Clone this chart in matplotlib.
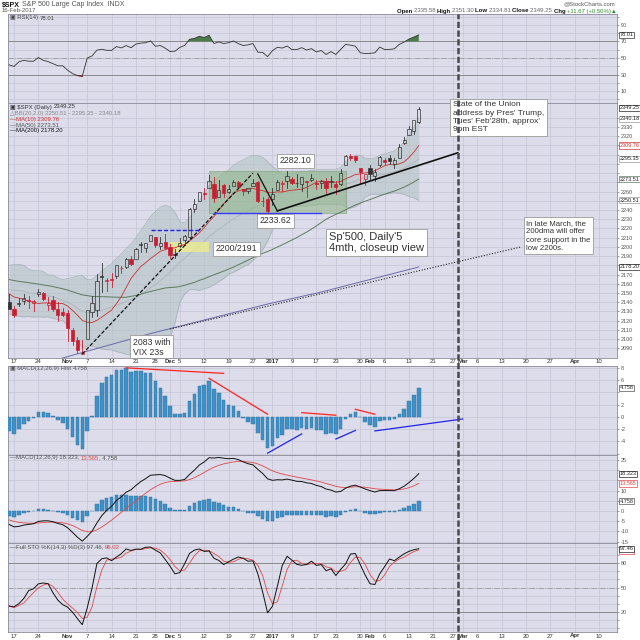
import numpy as np
import pandas as pd
import matplotlib
matplotlib.use("Agg")
import matplotlib.pyplot as plt
from matplotlib.lines import Line2D
from matplotlib.patches import Rectangle
from matplotlib.transforms import blended_transform_factory as blend

plt.rcParams['font.family'] = ['Liberation Sans', 'DejaVu Sans']

W = H = 640

# trading calendar (bars + projected future days)
holidays = ["2016-11-24", "2016-12-26", "2017-01-02", "2017-01-16", "2017-02-20", "2017-04-14"]
cal = pd.bdate_range("2016-10-14", "2017-04-14", freq="C", holidays=holidays)

# $SPX daily bars, 14-Oct-2016 .. 15-Feb-2017
bar_open = [2139.68, 2132.95, 2138.31, 2140.81, 2142.51, 2139.43, 2148.50, 2149.72, 2136.97, 2142.79,
            2132.23, 2129.78, 2128.68, 2109.43, 2098.80, 2083.79, 2100.59, 2129.92, 2131.56, 2167.49,
            2162.71, 2165.64, 2168.29, 2177.53, 2178.61, 2186.85, 2186.43, 2201.56, 2198.55, 2206.27,
            2210.21, 2200.76, 2204.97, 2200.17, 2191.12, 2200.65, 2207.26, 2210.72, 2241.13, 2249.73,
            2258.83, 2263.32, 2268.35, 2253.77, 2266.81, 2259.24, 2266.50, 2270.54, 2262.93, 2260.25,
            2266.23, 2270.23, 2249.50, 2251.61, 2251.57, 2261.60, 2268.18, 2271.14, 2273.59, 2269.72,
            2268.60, 2271.14, 2272.74, 2269.14, 2269.14, 2271.90, 2269.96, 2267.78, 2267.88, 2288.88,
            2298.63, 2299.02, 2286.01, 2274.02, 2285.59, 2276.69, 2288.54, 2294.28, 2295.87, 2289.55,
            2296.70, 2312.27, 2321.72, 2326.12, 2335.58]
bar_high = [2149.19, 2135.61, 2144.38, 2148.44, 2147.18, 2142.63, 2154.79, 2151.44, 2145.73, 2147.17,
            2140.72, 2133.25, 2131.45, 2111.76, 2102.56, 2099.07, 2132.00, 2146.87, 2170.10, 2182.30,
            2165.92, 2171.36, 2180.84, 2179.22, 2188.06, 2189.89, 2198.70, 2204.80, 2204.72, 2213.35,
            2211.14, 2210.46, 2214.10, 2202.60, 2197.95, 2209.42, 2212.78, 2241.63, 2251.69, 2259.80,
            2264.03, 2277.53, 2276.20, 2272.12, 2268.05, 2267.47, 2272.56, 2271.23, 2263.18, 2263.79,
            2273.82, 2271.31, 2254.51, 2253.58, 2263.88, 2272.82, 2271.50, 2282.10, 2275.49, 2279.27,
            2275.32, 2271.78, 2278.68, 2272.08, 2272.01, 2274.33, 2276.96, 2271.78, 2284.63, 2299.55,
            2300.99, 2299.02, 2286.01, 2279.09, 2289.14, 2283.97, 2298.31, 2296.18, 2299.40, 2295.91,
            2311.08, 2319.23, 2331.58, 2337.58, 2351.30]
bar_low = [2132.98, 2124.43, 2135.49, 2138.15, 2133.44, 2130.09, 2146.91, 2141.93, 2131.59, 2130.99,
           2119.36, 2125.53, 2097.85, 2094.00, 2085.23, 2083.79, 2100.59, 2123.56, 2125.35, 2151.17,
           2152.49, 2156.08, 2166.38, 2172.20, 2176.65, 2180.38, 2186.43, 2194.51, 2194.51, 2206.27,
           2200.36, 2198.15, 2198.81, 2187.44, 2188.37, 2199.97, 2202.21, 2208.93, 2237.57, 2249.23,
           2252.37, 2263.32, 2248.44, 2253.77, 2254.24, 2258.21, 2266.14, 2265.15, 2256.08, 2258.84,
           2266.15, 2249.11, 2244.56, 2233.62, 2245.13, 2261.60, 2260.45, 2264.06, 2268.04, 2265.27,
           2260.83, 2254.25, 2271.51, 2262.81, 2263.35, 2258.41, 2265.01, 2257.02, 2266.68, 2288.88,
           2294.08, 2291.62, 2268.04, 2267.21, 2272.44, 2271.65, 2287.88, 2288.57, 2290.16, 2285.38,
           2296.61, 2311.10, 2321.42, 2322.17, 2334.81]
bar_close = [2132.98, 2126.50, 2139.60, 2144.29, 2141.34, 2141.16, 2151.33, 2143.16, 2139.43, 2133.04,
             2126.41, 2126.15, 2111.72, 2097.94, 2088.66, 2085.18, 2131.52, 2139.56, 2163.26, 2167.48,
             2164.45, 2164.20, 2180.39, 2176.94, 2187.12, 2181.90, 2198.18, 2202.94, 2204.72, 2213.35,
             2201.72, 2204.66, 2198.81, 2191.08, 2191.95, 2204.71, 2212.23, 2241.35, 2246.19, 2259.53,
             2256.96, 2271.72, 2253.28, 2262.03, 2258.07, 2262.53, 2270.76, 2265.18, 2260.96, 2263.79,
             2268.88, 2249.92, 2249.26, 2238.83, 2257.83, 2270.75, 2269.00, 2276.98, 2268.90, 2268.90,
             2275.32, 2270.44, 2274.64, 2267.89, 2271.89, 2263.69, 2271.31, 2265.20, 2280.07, 2298.37,
             2296.68, 2294.69, 2280.90, 2278.87, 2279.55, 2280.85, 2297.42, 2292.56, 2293.08, 2294.67,
             2307.87, 2316.10, 2328.25, 2337.58, 2349.25]

# warm-up closes 5-Aug .. 13-Oct-2016 (before the first visible bar)
prior_close = [2182.87, 2180.89, 2181.74, 2175.49, 2185.79, 2184.05, 2190.15, 2178.15, 2182.22, 2187.02,
               2183.87, 2182.64, 2186.90, 2175.44, 2172.47, 2169.04, 2180.38, 2176.12, 2170.95, 2170.86,
               2179.98, 2186.48, 2186.16, 2181.30, 2127.81, 2159.04, 2127.02, 2125.77, 2147.26, 2139.16,
               2139.12, 2139.76, 2163.12, 2177.18, 2164.69, 2146.10, 2159.93, 2171.37, 2151.13, 2168.27,
               2161.20, 2150.49, 2159.73, 2160.77, 2153.74, 2163.66, 2136.73, 2139.18, 2132.55]
# highs / lows 21-Sep .. 13-Oct-2016
prior_high = [2165.11, 2179.99, 2173.75, 2158.54, 2161.13, 2172.40, 2172.67, 2175.30, 2164.41, 2165.46,
              2163.95, 2162.93, 2162.93, 2169.60, 2161.56, 2145.36, 2138.19]
prior_low = [2139.57, 2170.14, 2163.97, 2145.04, 2141.55, 2151.79, 2145.20, 2156.51, 2154.77, 2144.85,
             2150.28, 2150.28, 2144.85, 2160.39, 2128.84, 2132.77, 2114.72]

# 200-day MA
ma200 = [2063.0, 2064.5, 2066.0, 2067.5, 2069.0, 2070.5, 2072.0, 2073.5, 2075.0, 2076.5,
         2078.0, 2079.5, 2081.0, 2082.5, 2084.0, 2085.4, 2086.9, 2088.3, 2089.8, 2091.3,
         2092.8, 2094.2, 2095.7, 2097.2, 2098.6, 2100.1, 2101.6, 2103.0, 2104.5, 2106.0,
         2107.3, 2108.7, 2110.0, 2111.3, 2112.7, 2114.0, 2115.3, 2116.7, 2118.0, 2119.3,
         2120.7, 2122.0, 2123.3, 2124.7, 2126.0, 2127.3, 2128.7, 2130.0, 2131.3, 2132.7,
         2134.0, 2135.3, 2136.7, 2138.0, 2139.2, 2140.4, 2141.5, 2142.7, 2143.9, 2145.1,
         2146.3, 2147.5, 2148.6, 2149.8, 2151.0, 2152.4, 2153.7, 2155.1, 2156.4, 2157.8,
         2159.2, 2160.5, 2161.9, 2163.2, 2164.6, 2166.0, 2167.3, 2168.7, 2170.0, 2171.4,
         2172.8, 2174.1, 2175.5, 2176.8, 2178.2]

# x-axis labels
tick_dates = ["2016-10-17", "2016-10-24", "2016-11-01", "2016-11-07", "2016-11-14", "2016-11-21",
              "2016-11-28", "2016-12-01", "2016-12-05", "2016-12-12", "2016-12-19", "2016-12-27",
              "2017-01-03", "2017-01-09", "2017-01-17", "2017-01-23", "2017-01-30", "2017-02-01",
              "2017-02-06", "2017-02-13", "2017-02-21", "2017-02-27", "2017-03-01", "2017-03-06",
              "2017-03-13", "2017-03-20", "2017-03-27", "2017-04-03", "2017-04-10"]
tick_text = ["17", "24", "Nov", "7", "14", "21", "28", "Dec", "5", "12", "19", "27", "2017", "9", "17",
             "23", "30", "Feb", "6", "13", "21", "27", "Mar", "6", "13", "20", "27", "Apr", "10"]
month_labels = {"Nov", "Dec", "2017", "Feb", "Mar", "Apr"}
event_date = "2017-02-28"


def xi(d):
    return cal.get_loc(pd.Timestamp(d))


# ---- indicators ----
n = len(bar_close)
x = np.arange(n)
npr = len(prior_close)
closes = pd.Series(prior_close + bar_close)
ma10 = closes.rolling(10).mean().values[npr:]
mid = closes.rolling(20).mean()
sd = closes.rolling(20).std(ddof=0)
bb_up = (mid + 2 * sd).values[npr:]
bb_lo = (mid - 2 * sd).values[npr:]
bb_mid = mid.values[npr:]
ma50 = closes.rolling(50).mean().values[npr:]

delta = closes.diff()
avg_up = delta.clip(lower=0).ewm(alpha=1 / 14, adjust=False).mean()
avg_dn = (-delta.clip(upper=0)).ewm(alpha=1 / 14, adjust=False).mean()
rsi = (100 - 100 / (1 + avg_up / avg_dn)).values[npr:]

ema12 = closes.ewm(span=12, adjust=False).mean()
ema26 = closes.ewm(span=26, adjust=False).mean()
macd_s = ema12 - ema26
sig_s = macd_s.ewm(span=9, adjust=False).mean()
macd = macd_s.values[npr:]
signal = sig_s.values[npr:]
hist = macd - signal

pad = [np.nan] * (npr - len(prior_high))
highs = pd.Series(pad + prior_high + bar_high)
lows = pd.Series(pad + prior_low + bar_low)
hh = highs.rolling(14).max()
ll = lows.rolling(14).min()
fastk = 100 * (closes - ll) / (hh - ll)
sto_k_s = fastk.rolling(3).mean()
sto_k = sto_k_s.values[npr:]
sto_d = sto_k_s.rolling(3).mean().values[npr:]

# ---- figure ----
fig = plt.figure(figsize=(6.4, 6.4), dpi=100)
fig.patch.set_facecolor('white')
renderer = fig.canvas.get_renderer()

BG = '#dcdcea'
GRID = '#c4c4d5'
XMIN, XMAX = -0.23, 124.65
tick_x = [xi(d) for d in tick_dates]


def rect(x0, y0, x1, y1):
    return [x0 / W, 1 - y1 / H, (x1 - x0) / W, (y1 - y0) / H]


def hide_near(ticks, shown, boxes, gap):
    # tick labels that would sit under a value tag on the right axis are left blank
    return [str(v) if (v in shown and all(abs(v - b) >= gap for b in boxes)) else '' for v in ticks]


def panel(y0, y1, ylim, yticks, ylabels=None):
    ax = fig.add_axes(rect(8, y0, 617, y1))
    ax.set_facecolor(BG)
    ax.set_xlim(XMIN, XMAX)
    ax.set_ylim(*ylim)
    ax.set_xticks(tick_x)
    ax.tick_params(axis='x', length=0, labelbottom=False)
    ax.yaxis.tick_right()
    ax.set_yticks(yticks)
    if ylabels is not None:
        ax.set_yticklabels(ylabels)
    ax.tick_params(axis='y', labelsize=4, length=1.5, width=0.4, pad=1, colors='#555555')
    ax.grid(True, color=GRID, lw=0.5)
    ax.set_axisbelow(True)
    for s in ax.spines.values():
        s.set_color('#8a8a9a')
        s.set_linewidth(0.6)
    return ax


def runs(xp, yp, parts, size, ha='left'):
    objs = [fig.text(0, 1 - yp / H, s, fontsize=size, color=c, fontweight=w, va='center', ha='left')
            for s, c, w in parts]
    widths = [t.get_window_extent(renderer).width for t in objs]
    start = xp - sum(widths) if ha == 'right' else xp
    for t, w in zip(objs, widths):
        t.set_x(start / W)
        start += w


def vbox(ax, val, text, ec, tc='#222222'):
    ax.text(1.004, val, text, transform=blend(ax.transAxes, ax.transData), fontsize=4, color=tc,
            va='center', ha='left', clip_on=False, zorder=10,
            bbox=dict(boxstyle='square,pad=0.12', fc='white', ec=ec, lw=0.5))


def note(ax, xd, y, s, size=6, ls=1.2, clip=True):
    ax.text(xd, y, s, fontsize=size, color='#333333', va='center', ha='left', linespacing=ls,
            zorder=9, clip_on=clip,
            bbox=dict(boxstyle='square,pad=0.3', fc='white', ec='#9a9a9a', lw=0.6))


# header
runs(2, 5, [("$SPX", '#111111', 'bold'), (" S&P 500 Large Cap Index  INDX", '#555555', 'normal')], 5)
fig.text(2 / W, 1 - 11 / H, "16-Feb-2017", fontsize=4.3, color='#555555', va='center')
fig.text(615 / W, 1 - 4 / H, "@StockCharts.com", fontsize=4.3, color='#555555', va='center', ha='right')
chg = bar_close[-1] - bar_close[-2]
runs(617, 11, [("Open ", '#111111', 'bold'), (f"{bar_open[-1]:.2f} ", '#666666', 'normal'),
               ("High ", '#111111', 'bold'), (f"{bar_high[-1]:.2f} ", '#666666', 'normal'),
               ("Low ", '#111111', 'bold'), (f"{bar_low[-1]:.2f} ", '#666666', 'normal'),
               ("Close ", '#111111', 'bold'), (f"{bar_close[-1]:.2f} ", '#666666', 'normal'),
               ("Chg ", '#111111', 'bold'),
               (f"+{chg:.2f} (+{100 * chg / bar_close[-2]:.2f}%)\u25b2", '#2c8a2c', 'normal')],
     4.3, ha='right')

# ---- RSI ----
rsi_ticks = list(range(0, 101, 10))
ax_r = panel(14, 103, (-4.5, 103.3), rsi_ticks, hide_near(rsi_ticks, (10, 30, 50, 70, 90), [rsi[-1]], 7))
ax_r.axhline(70, color='#8a8a8a', lw=0.7)
ax_r.axhline(30, color='#8a8a8a', lw=0.7)
ax_r.axhline(50, color='#9a9a9a', lw=0.6, ls='-.')
ax_r.plot(x, rsi, color='#333333', lw=0.6, zorder=4)
ax_r.fill_between(x, rsi, 70, where=rsi > 70, interpolate=True, color='#4a7d4a', lw=0, zorder=3)
ax_r.fill_between(x, rsi, 30, where=rsi < 30, interpolate=True, color='#cc2222', lw=0, zorder=3)
vbox(ax_r, rsi[-1], f"{rsi[-1]:.2f}", '#333333')
runs(10, 18, [("\u25a3 RSI(14) ", '#444444', 'normal'), (f"{rsi[-1]:.2f}", '#444444', 'normal')], 4.3)

# ---- price ----
price_ticks = list(range(2090, 2341, 10))
price_boxes = [bar_close[-1], bb_up[-1], ma10[-1], bb_mid[-1], ma50[-1], bb_lo[-1], ma200[-1]]
ax_p = panel(103, 358, (2079.5, 2356), price_ticks, hide_near(price_ticks, price_ticks, price_boxes, 6.5))
ax_p.fill_between(x, bb_lo, bb_up, color='#b4c2c6', alpha=0.6, lw=0, zorder=1)
ax_p.plot(x, bb_up, color='#a4b2b6', lw=0.5, zorder=1)
ax_p.plot(x, bb_lo, color='#a4b2b6', lw=0.5, zorder=1)
ax_p.plot(x, bb_mid, color='#a8b4b8', lw=0.5, zorder=1)

x0, x1 = xi("2016-12-13"), xi("2017-01-25") + 0.1
ax_p.add_patch(Rectangle((x0, 2237), x1 - x0, 2282.1 - 2237, fc='#8fb585', alpha=0.55,
                         ec='#6d8f66', lw=0.6, zorder=2))
x0, x1 = xi("2016-12-01"), xi("2016-12-13")
ax_p.add_patch(Rectangle((x0, 2194), x1 - x0, 11, fc='#eeee88', alpha=0.75, lw=0, zorder=2))

ax_p.plot(x, ma200, color='#6a6aa8', lw=0.7, zorder=3)
ax_p.plot(x, ma50, color='#5f7a5f', lw=0.7, zorder=3)
ax_p.plot(x, ma10, color='#cc3333', lw=0.6, zorder=3)

prev = [prior_close[-1]] + bar_close[:-1]
for i in range(n):
    o, h, l, c = bar_open[i], bar_high[i], bar_low[i], bar_close[i]
    col = '#c81e32' if c < prev[i] else '#333333'
    lo_, hi_ = min(o, c), max(o, c)
    if hi_ - lo_ < 0.6:
        hi_ = lo_ + 0.6
    ax_p.plot([i, i], [l, lo_], color=col, lw=0.6, zorder=4)
    ax_p.plot([i, i], [hi_, h], color=col, lw=0.6, zorder=4)
    ax_p.add_patch(Rectangle((i - 0.33, lo_), 0.66, hi_ - lo_, fc=col if c < o else 'none',
                             ec=col, lw=0.5, zorder=5))

# drawn trend lines
ax_p.plot([xi("2016-11-04"), xi("2016-12-27")], [2083.8, 2280], color='#111111', lw=0.9,
          ls=(0, (3, 1.5)), zorder=6)
ax_p.plot([xi("2016-12-28"), xi("2017-01-04")], [2279, 2239], color='#111111', lw=0.9, zorder=6)
ax_p.plot([xi("2017-01-04"), xi(event_date)], [2239, 2302], color='#111111', lw=1.2, zorder=6)
ax_p.plot([xi("2016-12-14"), xi("2017-01-18")], [2236.5, 2236.5], color='#3a3aff', lw=1.0, zorder=6)
ax_p.plot([xi("2016-11-25"), xi("2016-12-09")], [2218, 2218], color='#2020ee', lw=1.0,
          ls=(0, (3, 1.5)), zorder=6)
ax_p.plot([xi("2016-12-01"), xi("2017-03-17")], [2111, 2200], color='#222222', lw=0.8,
          ls=(0, (1, 1.5)), zorder=6)

note(ax_p, xi("2017-01-05") - 0.5, 2293.3, "2282.10", size=6.3)
note(ax_p, xi("2016-12-28") + 0.3, 2228.2, "2233.62", size=6.3)
note(ax_p, xi("2016-12-14") + 0.3, 2197.7, "2200/2191", size=6.3)
note(ax_p, xi("2016-11-18") + 0.3, 2091.0, "2083 with\nVIX 23s", size=6.3, ls=1.1)
note(ax_p, xi("2017-01-18") + 1.6, 2204.7, "Sp'500, Daily'5\n4mth, closeup view", size=8, ls=1.15)
note(ax_p, xi("2017-02-27"), 2340.5,
     "State of the Union\naddress by Pres' Trump,\nTues' Feb'28th, approx'\n9pm EST",
     size=6, ls=1.25, clip=False)
note(ax_p, xi("2017-03-20"), 2212.0,
     "In late March, the\n200dma will offer\ncore support in the\nlow 2200s.", size=5.6, ls=1.3)

vbox(ax_p, bar_close[-1] + 1.5, f"{bar_close[-1]:.2f}", '#222222')
vbox(ax_p, bb_up[-1] - 1.5, f"{bb_up[-1]:.2f}", '#999999')
vbox(ax_p, ma10[-1], f"{ma10[-1]:.2f}", '#cc3333', '#cc3333')
vbox(ax_p, bb_mid[-1], f"{bb_mid[-1]:.2f}", '#999999')
vbox(ax_p, ma50[-1], f"{ma50[-1]:.2f}", '#5f7a5f')
vbox(ax_p, bb_lo[-1], f"{bb_lo[-1]:.2f}", '#999999')
vbox(ax_p, ma200[-1], f"{ma200[-1]:.2f}", '#222222')

runs(10, 107, [("\u25a3 $SPX (Daily) ", '#333333', 'normal'), (f"{bar_close[-1]:.2f}", '#333333', 'normal')], 4.3)
runs(10, 113, [(f"\u25b3BB(20,2.0) {bb_lo[-1]:.2f} - {bb_mid[-1]:.2f} - {bb_up[-1]:.2f}", '#8a8a8a', 'normal')], 4.3)
runs(10, 119, [(f"\u2014MA(10) {ma10[-1]:.2f}", '#cc3333', 'normal')], 4.3)
runs(10, 125, [(f"\u2014MA(50) {ma50[-1]:.2f}", '#555555', 'normal')], 4.3)
runs(10, 130.5, [(f"\u2014MA(200) {ma200[-1]:.2f}", '#111111', 'normal')], 4.3)

# ---- MACD histogram ----
hist_ticks = list(range(-6, 9, 2))
ax_h = panel(366, 455, (-6.2, 8.3), hist_ticks, hide_near(hist_ticks, range(-4, 9, 2), [hist[-1]], 1.1))
ax_h.bar(x, hist, width=0.72, color='#4090c8', ec='#2d6f9c', lw=0.3, zorder=3)
for (d0, v0), (d1, v1), col in [
        (("2016-11-17", 8.0), ("2016-12-16", 7.1), '#ff2222'),
        (("2016-12-13", 6.3), ("2016-12-30", 0.44), '#ff2222'),
        (("2017-01-11", 0.7), ("2017-01-23", 0.28), '#ff2222'),
        (("2017-01-27", 1.25), ("2017-02-02", 0.44), '#ff2222'),
        (("2016-12-30", -5.9), ("2017-01-11", -2.76), '#2222ee'),
        (("2017-01-23", -3.6), ("2017-01-27", -2.2), '#2222ee'),
        (("2017-02-02", -2.28), ("2017-03-01", -0.33), '#2222ee')]:
    ax_h.plot([xi(d0), xi(d1)], [v0, v1], color=col, lw=0.9, zorder=5)
vbox(ax_h, hist[-1], f"{hist[-1]:.3f}", '#555555')
runs(10, 368.5, [("\u25a3 MACD(12,26,9) Hist ", '#555555', 'normal'), (f"{hist[-1]:.3f}", '#555555', 'normal')], 4.3)

# ---- MACD ----
macd_ticks = list(range(-15, 26, 5))
ax_m = panel(455, 543, (-15.7, 27.5), macd_ticks,
             hide_near(macd_ticks, macd_ticks, [macd[-1], signal[-1], hist[-1]], 3.2))
ax_m.bar(x, hist, width=0.72, color='#4090c8', ec='#2d6f9c', lw=0.3, zorder=3)
ax_m.plot(x, signal, color='#e04848', lw=0.6, zorder=4)
ax_m.plot(x, macd, color='#111111', lw=0.7, zorder=5)
vbox(ax_m, macd[-1], f"{macd[-1]:.3f}", '#222222')
vbox(ax_m, signal[-1], f"{signal[-1]:.3f}", '#e04848', '#e04848')
vbox(ax_m, hist[-1], f"{hist[-1]:.3f}", '#555555')
runs(10, 458, [(f"\u2014MACD(12,26,9) {macd[-1]:.3f}, ", '#555555', 'normal'),
               (f"{signal[-1]:.3f}", '#e04848', 'normal'), (f", {hist[-1]:.3f}", '#555555', 'normal')], 4.3)

# ---- Full stochastics ----
sto_ticks = list(range(0, 101, 10))
ax_s = panel(543, 632, (-4.5, 104.5), sto_ticks, hide_near(sto_ticks, (20, 50, 80), [sto_k[-1]], 8))
ax_s.axhline(80, color='#8a8a8a', lw=0.7)
ax_s.axhline(20, color='#8a8a8a', lw=0.7)
ax_s.axhline(50, color='#9a9a9a', lw=0.6, ls='-.')
ax_s.plot(x, sto_d, color='#e04848', lw=0.6, zorder=4)
ax_s.plot(x, sto_k, color='#111111', lw=0.7, zorder=5)
vbox(ax_s, sto_d[-1] - 1.2, f"{sto_d[-1]:.2f}", '#e04848', '#e04848')
vbox(ax_s, sto_k[-1], f"{sto_k[-1]:.2f}", '#222222')
runs(10, 547.5, [(f"\u2014Full STO %K(14,3) %D(3) {sto_k[-1]:.2f}, ", '#555555', 'normal'),
                 (f"{sto_d[-1]:.2f}", '#e04848', 'normal')], 4.3)

# x-axis label rows
for xv, t in zip(tick_x, tick_text):
    wt = 'bold' if t in month_labels else 'normal'
    for yp in (361.5, 636):
        fig.text(xv, 1 - yp / H, t, transform=blend(ax_p.transData, fig.transFigure), fontsize=4.3,
                 color='#333333', fontweight=wt, ha='center', va='center')

# event line through all panels
fig.add_artist(Line2D([xi(event_date)] * 2, [1 - 640 / H, 1 - 14 / H],
                      transform=blend(ax_p.transData, fig.transFigure),
                      color='#4a4a4a', lw=1.8, ls=(0, (2.5, 1)), zorder=20))

fig.savefig("out.png", dpi=100, facecolor='white')
